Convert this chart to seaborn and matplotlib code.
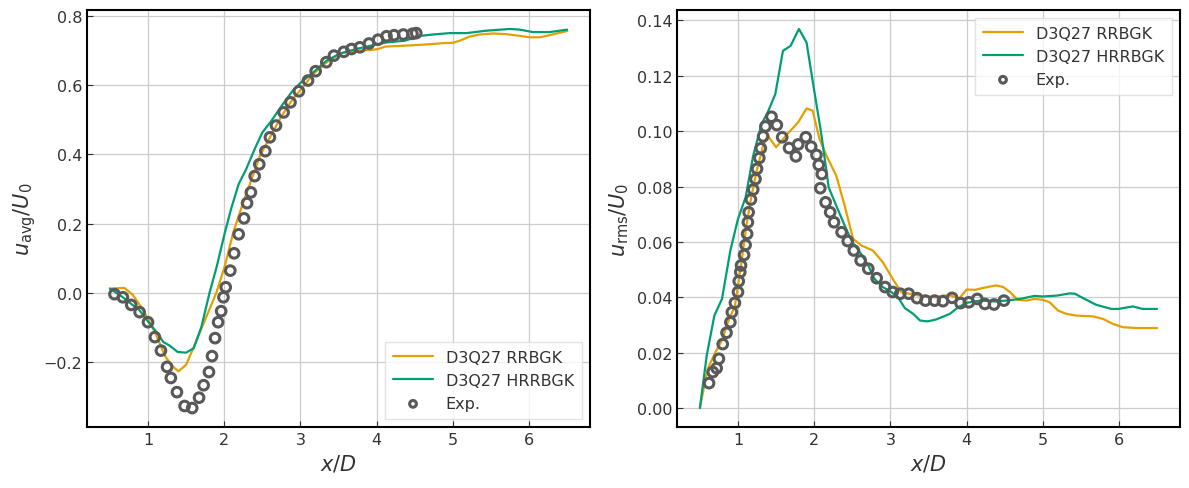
import numpy as np
import pandas as pd
import seaborn as sns
import matplotlib
matplotlib.use("Agg")
import matplotlib.pyplot as plt

# mean streamwise velocity, u_avg/U0
avg_rrbgk_x = [0.50, 0.69, 0.80, 0.91, 1.00, 1.11, 1.22, 1.31, 1.40, 1.50, 1.60, 1.70, 1.81, 1.90,
               2.01, 2.12, 2.22, 2.33, 2.47, 2.60, 2.73, 2.90, 3.01, 3.17, 3.34, 3.52, 3.73, 3.91,
               4.02, 4.11, 4.30, 4.48, 4.70, 4.87, 5.00, 5.09, 5.22, 5.35, 5.53, 5.70, 5.88, 6.01,
               6.14, 6.27, 6.50]
avg_rrbgk_y = [0.012, 0.014, -0.006, -0.041, -0.075, -0.123, -0.181, -0.210, -0.227, -0.208, -0.157,
               -0.104, -0.046, 0.002, 0.079, 0.175, 0.242, 0.310, 0.396, 0.449, 0.502, 0.560, 0.588,
               0.632, 0.665, 0.691, 0.699, 0.701, 0.704, 0.711, 0.713, 0.715, 0.718, 0.721, 0.722,
               0.728, 0.740, 0.746, 0.749, 0.747, 0.742, 0.738, 0.738, 0.744, 0.756]

avg_hrrbgk_x = [0.50, 0.67, 0.89, 1.00, 1.11, 1.20, 1.28, 1.39, 1.50, 1.60, 1.70, 1.81, 1.90, 2.01,
                2.09, 2.19, 2.29, 2.40, 2.50, 2.62, 2.77, 2.90, 3.01, 3.17, 3.34, 3.52, 3.73, 3.95,
                4.13, 4.37, 4.57, 4.74, 4.96, 5.18, 5.44, 5.75, 5.88, 6.05, 6.27, 6.50]
avg_hrrbgk_y = [0.012, -0.013, -0.051, -0.083, -0.113, -0.142, -0.152, -0.171, -0.173, -0.160, -0.099,
                0.002, 0.074, 0.175, 0.242, 0.314, 0.358, 0.415, 0.463, 0.497, 0.545, 0.584, 0.608,
                0.637, 0.670, 0.691, 0.704, 0.715, 0.723, 0.728, 0.742, 0.746, 0.750, 0.750, 0.757,
                0.762, 0.760, 0.753, 0.753, 0.760]

avg_exp_x = [0.56, 0.67, 0.78, 0.89, 1.00, 1.09, 1.17, 1.25, 1.30, 1.38, 1.48, 1.58, 1.67, 1.73,
             1.80, 1.84, 1.88, 1.92, 1.96, 1.99, 2.02, 2.08, 2.13, 2.19, 2.26, 2.30, 2.35, 2.40,
             2.46, 2.54, 2.60, 2.68, 2.78, 2.87, 2.98, 3.10, 3.20, 3.34, 3.44, 3.57, 3.67, 3.78,
             3.90, 4.02, 4.13, 4.23, 4.35, 4.47, 4.52]
avg_exp_y = [-0.004, -0.013, -0.035, -0.056, -0.085, -0.128, -0.167, -0.214, -0.246, -0.287, -0.327,
             -0.333, -0.303, -0.267, -0.229, -0.183, -0.131, -0.085, -0.053, -0.013, 0.016, 0.064,
             0.114, 0.169, 0.215, 0.259, 0.290, 0.337, 0.371, 0.409, 0.449, 0.483, 0.521, 0.550,
             0.582, 0.613, 0.640, 0.666, 0.685, 0.696, 0.704, 0.709, 0.720, 0.731, 0.741, 0.744,
             0.746, 0.748, 0.750]

# rms streamwise velocity, u_rms/U0
rms_rrbgk_x = [0.50, 0.60, 0.70, 0.80, 0.85, 0.96, 1.04, 1.11, 1.17, 1.24, 1.33, 1.39, 1.50, 1.63,
               1.79, 1.90, 1.98, 2.07, 2.16, 2.29, 2.40, 2.51, 2.62, 2.77, 2.90, 3.03, 3.14, 3.38,
               3.60, 3.69, 3.80, 3.90, 4.00, 4.11, 4.22, 4.39, 4.48, 4.57, 4.67, 4.78, 4.89, 5.00,
               5.09, 5.20, 5.31, 5.44, 5.66, 5.79, 5.92, 6.05, 6.23, 6.50]
rms_rrbgk_y = [0.0, 0.014, 0.020, 0.025, 0.0298, 0.037, 0.0515, 0.0659, 0.0755, 0.0851, 0.0948,
               0.0984, 0.0942, 0.0984, 0.1032, 0.1082, 0.1074, 0.0972, 0.0912, 0.0839, 0.0731,
               0.0611, 0.0587, 0.0569, 0.0527, 0.0467, 0.0419, 0.0406, 0.0400, 0.0406, 0.0406,
               0.0394, 0.0428, 0.0427, 0.0434, 0.0443, 0.0437, 0.0419, 0.0391, 0.0388, 0.0394,
               0.0391, 0.0382, 0.0352, 0.0340, 0.0334, 0.0331, 0.0322, 0.0304, 0.0292, 0.0289,
               0.0289]

rms_hrrbgk_x = [0.50, 0.59, 0.69, 0.79, 0.90, 1.00, 1.10, 1.20, 1.31, 1.39, 1.49, 1.59, 1.69, 1.80,
                1.90, 1.99, 2.09, 2.19, 2.29, 2.40, 2.50, 2.60, 2.71, 2.79, 2.90, 3.01, 3.10, 3.19,
                3.30, 3.39, 3.49, 3.60, 3.78, 3.89, 4.00, 4.17, 4.37, 4.52, 4.70, 4.89, 5.00, 5.18,
                5.35, 5.42, 5.55, 5.70, 5.90, 5.99, 6.18, 6.31, 6.50]
rms_hrrbgk_y = [0.0, 0.0190, 0.0334, 0.0394, 0.0569, 0.0683, 0.0761, 0.0912, 0.1026, 0.1068, 0.1134,
                0.1290, 0.1308, 0.1369, 0.1320, 0.1164, 0.0996, 0.0797, 0.0731, 0.0659, 0.0599,
                0.0563, 0.0515, 0.0467, 0.0437, 0.0419, 0.0400, 0.0361, 0.0340, 0.0316, 0.0313,
                0.0320, 0.0340, 0.0364, 0.0380, 0.0388, 0.0385, 0.0388, 0.0394, 0.0405, 0.0403,
                0.0406, 0.0414, 0.0413, 0.0394, 0.0373, 0.0358, 0.0358, 0.0367, 0.0358, 0.0358]

rms_exp_x = [0.62, 0.67, 0.72, 0.75, 0.80, 0.85, 0.90, 0.92, 0.96, 1.00, 1.01, 1.03, 1.04, 1.08,
             1.10, 1.12, 1.13, 1.14, 1.17, 1.20, 1.23, 1.25, 1.28, 1.30, 1.33, 1.36, 1.44, 1.51,
             1.58, 1.67, 1.76, 1.79, 1.89, 1.96, 2.03, 2.06, 2.10, 2.08, 2.15, 2.21, 2.26, 2.36,
             2.44, 2.52, 2.61, 2.71, 2.82, 2.93, 3.03, 3.13, 3.24, 3.35, 3.46, 3.58, 3.69, 3.81,
             3.92, 4.03, 4.14, 4.24, 4.36, 4.49]
rms_exp_y = [0.0090, 0.0130, 0.0144, 0.0178, 0.0231, 0.0272, 0.0310, 0.0346, 0.0380, 0.0419, 0.0458,
             0.0491, 0.0515, 0.0553, 0.0589, 0.0629, 0.0671, 0.0707, 0.0753, 0.0789, 0.0827,
             0.0864, 0.0903, 0.0938, 0.0981, 0.1017, 0.1052, 0.1022, 0.0978, 0.0939, 0.0909,
             0.0952, 0.0978, 0.0944, 0.0914, 0.0878, 0.0845, 0.0794, 0.0743, 0.0707, 0.0671,
             0.0635, 0.0603, 0.0569, 0.0533, 0.0503, 0.0469, 0.0437, 0.0419, 0.0413, 0.0413,
             0.0397, 0.0388, 0.0388, 0.0386, 0.0398, 0.0379, 0.0382, 0.0394, 0.0376, 0.0374,
             0.0388]

labels = ["D3Q27 RRBGK", "D3Q27 HRRBGK", "Exp."]
colors = ["#E69F00", "#009E73"]
exp_color = "#595959"

sns.set_style("whitegrid", {
    "axes.edgecolor": "black",
    "grid.color": "#cccccc",
    "xtick.bottom": True,
    "ytick.left": True,
})
plt.rcParams.update({
    "font.family": ["DejaVu Sans"],
    "xtick.direction": "in",
    "ytick.direction": "in",
    "xtick.major.size": 4,
    "ytick.major.size": 4,
    "xtick.color": "#333333",
    "ytick.color": "#333333",
    "xtick.labelsize": 11.5,
    "ytick.labelsize": 11.5,
    "axes.labelsize": 15,
    "axes.labelcolor": "#333333",
    "axes.linewidth": 1.5,
    "legend.fontsize": 11.5,
    "text.color": "#333333",
    "mathtext.fontset": "dejavusans",
})


def plot_panel(ax, sim, exp, ylabel, legend_loc):
    for (x, y), lab, col in zip(sim, labels[:2], colors):
        sns.lineplot(x=x, y=y, ax=ax, color=col, linewidth=1.6, label=lab, sort=False)
    sns.scatterplot(x=exp[0], y=exp[1], ax=ax, marker="o", s=48, facecolors="none",
                    edgecolor=exp_color, linewidth=2.2, label=labels[2], zorder=3)
    ax.set_xlabel(r"$x/D$")
    ax.set_ylabel(ylabel)
    ax.set_xticks([1, 2, 3, 4, 5, 6])
    ax.grid(True, color="#cccccc", linewidth=0.9)
    for s in ax.spines.values():
        s.set_color("black")
        s.set_linewidth(1.5)
    leg = ax.legend(loc=legend_loc, frameon=True, fancybox=False, framealpha=0.8,
                    edgecolor="#dddddd", borderpad=0.5, handlelength=2.5, markerscale=0.7)
    leg.get_frame().set_linewidth(1.0)


fig = plt.figure(figsize=(11.89, 4.89), dpi=100)
ax1 = fig.add_axes([0.0732, 0.1247, 0.4230, 0.8528])
ax2 = fig.add_axes([0.5694, 0.1247, 0.4230, 0.8528])

plot_panel(ax1, [(avg_rrbgk_x, avg_rrbgk_y), (avg_hrrbgk_x, avg_hrrbgk_y)],
           (avg_exp_x, avg_exp_y), r"$u_{\mathrm{avg}}/U_0$", "lower right")
ax1.set_yticks([-0.2, 0.0, 0.2, 0.4, 0.6, 0.8])

plot_panel(ax2, [(rms_rrbgk_x, rms_rrbgk_y), (rms_hrrbgk_x, rms_hrrbgk_y)],
           (rms_exp_x, rms_exp_y), r"$u_{\mathrm{rms}}/U_0$", "upper right")
ax2.set_yticks(np.arange(0, 0.141, 0.02))

fig.savefig("out.png", dpi=100)
